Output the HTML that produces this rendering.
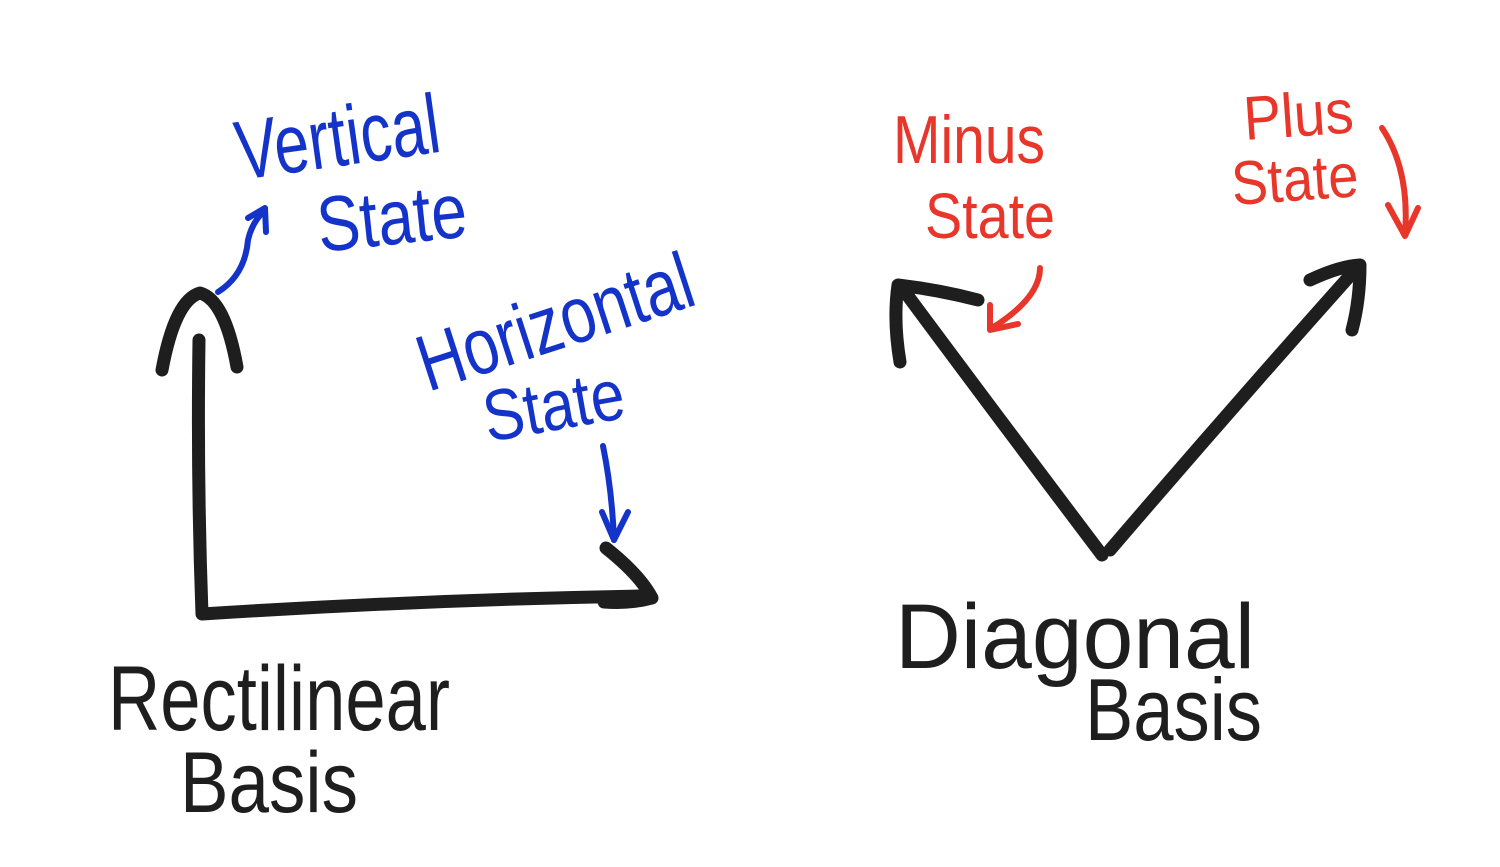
<!DOCTYPE html>
<html><head><meta charset="utf-8">
<style>
html,body{margin:0;padding:0;background:#fff;}
svg{display:block;}
text{font-family:"Liberation Sans",sans-serif;}
</style></head>
<body>
<svg width="1500" height="867" viewBox="0 0 1500 867" xmlns="http://www.w3.org/2000/svg">
<rect width="1500" height="867" fill="#fff"/>
<g fill="none" stroke="#1e1e1e" stroke-width="13" stroke-linecap="round" stroke-linejoin="round">
  <!-- rectilinear -->
  <path d="M199 340 Q197 480 202 614 Q420 600 640 596"/>
  <path d="M162 370 Q175 300 200 293 Q225 300 237 367"/>
  <path d="M606 548 Q640 575 652 598 Q630 604 604 602"/>
  <!-- diagonal -->
  <path d="M1102 555 Q1000 420 905 292"/>
  <path d="M900 362 Q893 320 898 285 Q940 290 978 300"/>
  <path d="M1110 550 Q1230 410 1355 270"/>
  <path d="M1310 280 Q1340 266 1360 265 Q1360 300 1352 330"/>
</g>
<g fill="none" stroke="#1433c8" stroke-width="6" stroke-linecap="round" stroke-linejoin="round">
  <path d="M218 292 Q245 275 248 240 Q252 222 265 210"/>
  <path d="M248 218 L265 208 L266 232"/>
  <path d="M603 446 Q612 490 614 540"/>
  <path d="M602 512 L614 540 L628 512"/>
</g>
<g fill="none" stroke="#e8362a" stroke-width="6" stroke-linecap="round" stroke-linejoin="round">
  <path d="M1040 268 Q1040 298 992 328"/>
  <path d="M990 305 L990 330 L1018 324"/>
  <path d="M1382 128 Q1410 170 1405 235"/>
  <path d="M1388 205 L1405 236 L1418 208"/>
</g>
<g fill="#1433c8">
  <text x="240" y="180" font-size="84" textLength="205" lengthAdjust="spacingAndGlyphs" transform="rotate(-8 240 180)">Vertical</text>
  <text x="320" y="252" font-size="78" textLength="150" lengthAdjust="spacingAndGlyphs" transform="rotate(-6 320 252)">State</text>
  <text x="428" y="392" font-size="80" textLength="285" lengthAdjust="spacingAndGlyphs" transform="rotate(-18 428 392)">Horizontal</text>
  <text x="488" y="442" font-size="72" textLength="142" lengthAdjust="spacingAndGlyphs" transform="rotate(-10 488 442)">State</text>
</g>
<g fill="#e8362a">
  <text x="893" y="163" font-size="68" textLength="152" lengthAdjust="spacingAndGlyphs">Minus</text>
  <text x="925" y="238" font-size="64" textLength="130" lengthAdjust="spacingAndGlyphs">State</text>
  <text x="1245" y="140" font-size="62" textLength="110" lengthAdjust="spacingAndGlyphs" transform="rotate(-4 1245 140)">Plus</text>
  <text x="1233" y="205" font-size="62" textLength="127" lengthAdjust="spacingAndGlyphs" transform="rotate(-4 1233 205)">State</text>
</g>
<g fill="#1e1e1e">
  <text x="108" y="730" font-size="92" textLength="342" lengthAdjust="spacingAndGlyphs">Rectilinear</text>
  <text x="180" y="812" font-size="86" textLength="178" lengthAdjust="spacingAndGlyphs">Basis</text>
  <text x="895" y="668" font-size="92" textLength="360" lengthAdjust="spacingAndGlyphs">Diagonal</text>
  <text x="1085" y="740" font-size="88" textLength="177" lengthAdjust="spacingAndGlyphs">Basis</text>
</g>
</svg>
</body></html>
